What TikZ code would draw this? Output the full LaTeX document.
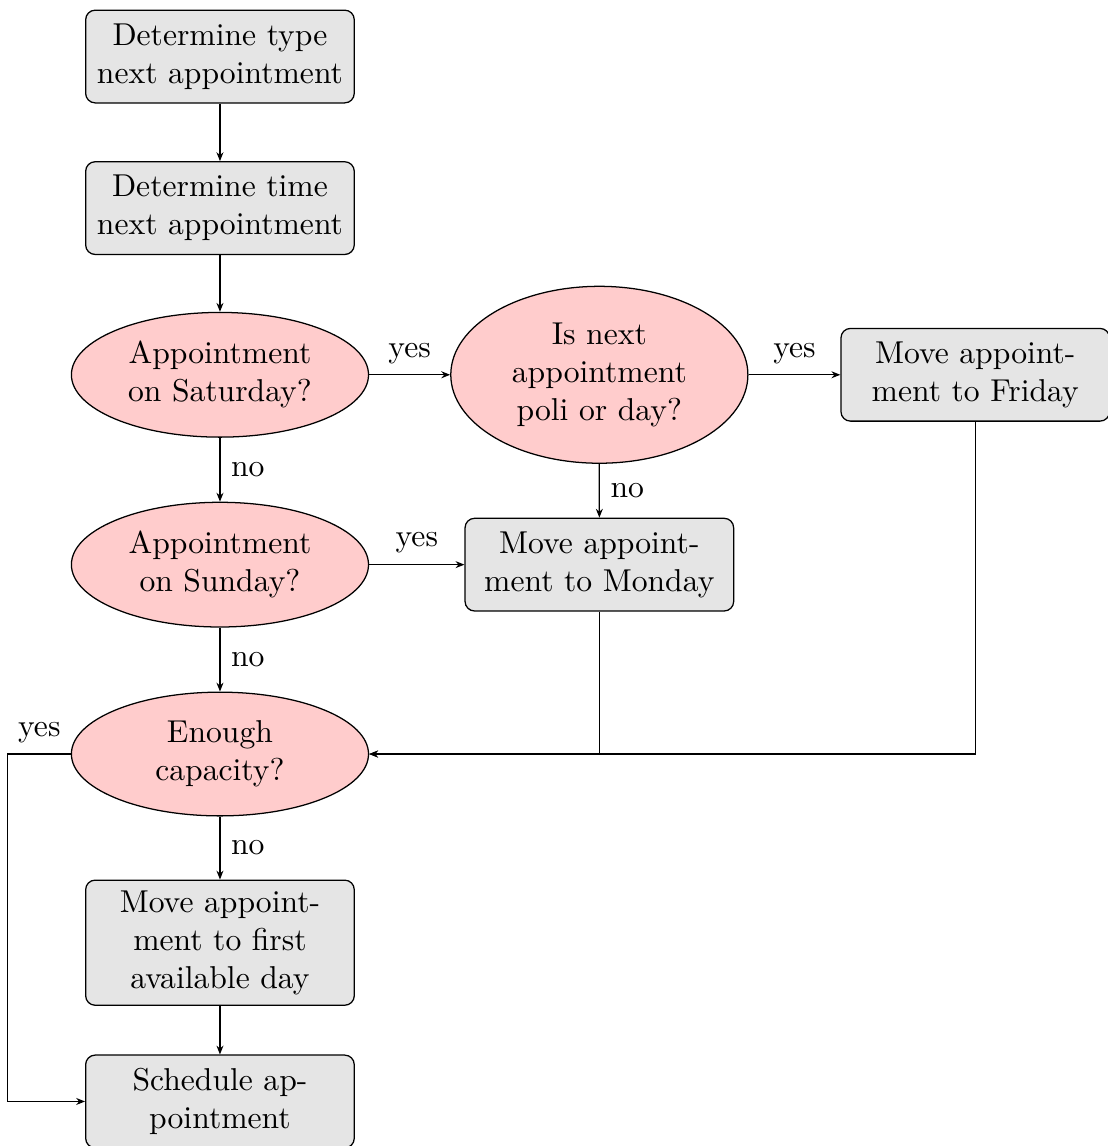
\documentclass[tikz,border=0pt]{standalone}
\usepackage{tikz}
\usepackage{xcolor}
\usetikzlibrary{positioning,arrows.meta,shapes.geometric}

\begin{document}
\begin{tikzpicture}[
  proc/.style={rounded corners=3pt, draw, align=center, text width=2.75cm,
               minimum height=1.03cm, fill=black!10},
  decide/.style={ellipse, draw, align=center, text width=2.1cm,
                 fill=red!20},
  flow/.style={-{Stealth[length=2.8pt,width=2.2pt]}},
]
\useasboundingbox (0,0) rectangle (12.311,-12.733);

% --- main column ---
\node[proc] (type) at (2.444,-0.628) {Determine type next appointment};
\node[proc, below=0.64cm of type] (time) {Determine time next appointment};
\node[decide, below=0.63cm of time] (sat) {Appointment on Saturday?};
\node[decide, below=0.71cm of sat] (sun) {Appointment on Sunday?};
\node[decide, below=0.71cm of sun] (cap) {Enough capacity?};
\node[proc, below=0.70cm of cap] (first) {Move appointment to first available day};
\node[proc, below=0.54cm of first] (sched) {Schedule appointment};

% --- weekend branches ---
\node[decide, right=0.90cm of sat] (kind) {Is next appointment poli or day?};
\node[proc, right=1.02cm of kind] (fri) {Move appointment to Friday};
\node[proc, right=1.0586cm of sun] (mon) {Move appointment to Monday};

% --- flows ---
\draw[flow] (type) -- (time);
\draw[flow] (time) -- (sat);
\draw[flow] (sat) -- node[above] {yes} (kind);
\draw[flow] (kind) -- node[right] {no} (mon);
\draw[flow] (kind) -- node[above] {yes} (fri);
\draw[flow] (sat) -- node[right] {no} (sun);
\draw[flow] (sun) -- node[above] {yes} (mon);
\draw[flow] (sun) -- node[right] {no} (cap);
\draw[flow] (mon.south) |- (cap.east);
\draw[flow] (fri.south) |- (cap.east);
\draw[flow] (cap) -- node[right] {no} (first);
\draw[flow] (cap.west) -- node[above] {yes} ++(-0.7,0) |- (sched.west);
\draw[flow] (first) -- (sched);
\end{tikzpicture}
\end{document}
